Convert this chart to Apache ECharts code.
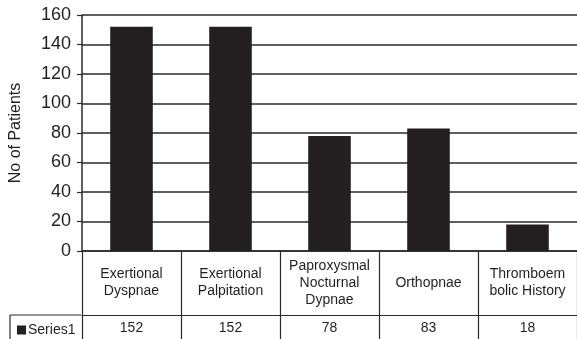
<!DOCTYPE html>
<html>
<head>
<meta charset="utf-8">
<script src="https://cdn.jsdelivr.net/npm/echarts@6/dist/echarts.min.js"></script>
<style>
  html, body { margin: 0; padding: 0; background: #fff; }
  #chart { width: 577px; height: 339px; }
</style>
</head>
<body>
<div id="chart"></div>
<script>
// Presenting symptoms and patient counts
const categories = [
  'Exertional\nDyspnae',
  'Exertional\nPalpitation',
  'Paproxysmal\nNocturnal\nDypnae',
  'Orthopnae',
  'Thromboem\nbolic History'
];
const series1 = [152, 152, 78, 83, 18];
const seriesName = 'Series1';
const yTicks = { min: 0, max: 160, interval: 20 };
const yTitle = 'No of Patients';

const ink = '#231f20';
const rule = '#2a2a2a';
const font = "'Liberation Sans', Arial, Helvetica, sans-serif";

// table geometry under the plot
const gridLeft = 81, gridTop = 15, gridBottom = 88;
const labelRow = 64;      // height of the category-name row
const tableLeft = 10;     // left edge of the series row

const chart = echarts.init(document.getElementById('chart'), null, { renderer: 'canvas' });
const H = 339;
const rowLineY = H - gridBottom + labelRow;

chart.setOption({
  animation: false,
  textStyle: { fontFamily: font, color: ink },
  grid: { left: gridLeft, right: 0, top: gridTop, bottom: gridBottom, containLabel: false },
  legend: {
    data: [{ name: seriesName, icon: 'rect' }],
    left: 17,
    top: rowLineY + 8,
    itemWidth: 9,
    itemHeight: 9,
    padding: 0,
    textStyle: { fontFamily: font, fontSize: 14, color: ink, padding: [0, 0, 0, -3] }
  },
  xAxis: [
    {
      type: 'category',
      data: categories,
      position: 'bottom',
      axisLine: { show: true, lineStyle: { color: rule, width: 1.5 } },
      axisTick: { show: true, interval: 0, length: gridBottom, lineStyle: { color: rule, width: 1.2 } },
      axisLabel: {
        interval: 0,
        margin: 32,
        verticalAlign: 'middle',
        fontSize: 14,
        lineHeight: 17,
        color: ink,
        fontFamily: font
      }
    },
    {
      type: 'category',
      data: categories,
      position: 'bottom',
      offset: labelRow,
      axisLine: { show: true, lineStyle: { color: rule, width: 1.2 } },
      axisTick: { show: false },
      axisLabel: {
        interval: 0,
        margin: 13,
        verticalAlign: 'middle',
        fontSize: 14,
        color: ink,
        fontFamily: font,
        formatter: (v, i) => String(series1[i])
      }
    }
  ],
  yAxis: {
    type: 'value',
    min: yTicks.min,
    max: yTicks.max,
    interval: yTicks.interval,
    name: yTitle,
    nameLocation: 'middle',
    nameGap: 58,
    nameRotate: 90,
    nameTextStyle: { fontSize: 16, color: ink, fontFamily: font },
    axisLine: { show: true, lineStyle: { color: rule, width: 1.5 } },
    axisTick: { show: true, length: 5, lineStyle: { color: rule, width: 1.2 } },
    splitLine: { show: true, lineStyle: { color: rule, width: 1.6 } },
    axisLabel: { fontSize: 18, margin: 11, color: ink, fontFamily: font }
  },
  series: [
    {
      name: seriesName,
      type: 'bar',
      data: series1,
      barWidth: '43%',
      itemStyle: { color: ink }
    }
  ],
  graphic: [
    {
      type: 'line',
      shape: { x1: tableLeft, y1: rowLineY, x2: gridLeft, y2: rowLineY },
      style: { stroke: rule, lineWidth: 1.2 }
    },
    {
      type: 'line',
      shape: { x1: tableLeft, y1: rowLineY, x2: tableLeft, y2: H },
      style: { stroke: rule, lineWidth: 1.2 }
    }
  ]
});
</script>
</body>
</html>
